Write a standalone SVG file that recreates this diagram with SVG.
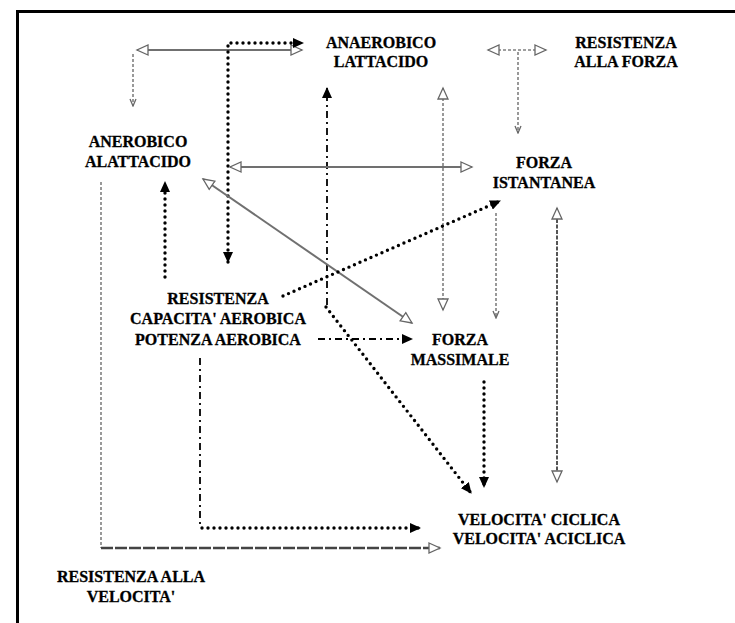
<svg xmlns="http://www.w3.org/2000/svg" width="735" height="623" viewBox="0 0 735 623">
<style>
.t{font-family:"Liberation Serif","Times New Roman",serif;font-weight:bold;font-size:16px;fill:#000;text-anchor:middle;stroke:#000;stroke-width:0.3}
.dot{fill:none;stroke:#000;stroke-width:3.4;stroke-dasharray:0 6;stroke-linecap:round}
.dd{fill:none;stroke:#000;stroke-width:1.8;stroke-dasharray:7 4 2 4}
.gray{fill:none;stroke:#707070;stroke-width:2}
.gd{fill:none;stroke:#808080;stroke-width:1.6;stroke-dasharray:3 2}
.gdk{fill:none;stroke:#555;stroke-width:2;stroke-dasharray:4 1.5}
.gb{fill:none;stroke:#444;stroke-width:2.6;stroke-dasharray:12 2}
</style>
<defs>
<marker id="fa" markerUnits="userSpaceOnUse" markerWidth="12" markerHeight="10" refX="10" refY="5" orient="auto-start-reverse"><path d="M0,0 L11,5 L0,10 Z" fill="#000"/></marker>
<marker id="ha" markerUnits="userSpaceOnUse" markerWidth="14" markerHeight="12" refX="12" refY="6" orient="auto-start-reverse"><path d="M1,1 L12,6 L1,11 Z" fill="#fff" stroke="#666" stroke-width="1.3"/></marker>
<marker id="sa" markerUnits="userSpaceOnUse" markerWidth="9" markerHeight="8" refX="8" refY="4" orient="auto-start-reverse"><path d="M1,1 L8,4 L1,7" fill="none" stroke="#666" stroke-width="1.3"/></marker>
</defs>
<g id="frame" fill="none" stroke="#000" stroke-width="3">
<line x1="16" y1="11.5" x2="735" y2="11.5"/>
<line x1="17.5" y1="10" x2="17.5" y2="623"/>
</g>
<g id="connectors">
<line class="gray" x1="137" y1="50" x2="302" y2="50" marker-start="url(#ha)" marker-end="url(#ha)"/>
<line class="gd" x1="133" y1="54" x2="133" y2="106" marker-end="url(#sa)"/>
<path class="dot" d="M228,262 V43 H303" marker-start="url(#fa)" marker-end="url(#fa)"/>
<line class="dd" x1="327" y1="305" x2="327" y2="88" marker-end="url(#fa)"/>
<line class="dot" x1="326" y1="307" x2="471" y2="493" marker-end="url(#fa)"/>
<line class="gray" x1="230" y1="167" x2="472" y2="167" marker-start="url(#ha)" marker-end="url(#ha)"/>
<line class="gray" x1="203" y1="179" x2="412" y2="323" marker-start="url(#ha)" marker-end="url(#ha)"/>
<line class="gd" x1="443" y1="88" x2="443" y2="310" marker-start="url(#ha)" marker-end="url(#ha)"/>
<line class="gd" x1="496" y1="213" x2="496" y2="318" marker-end="url(#sa)"/>
<line class="gd" x1="488" y1="50" x2="546" y2="50" marker-start="url(#ha)" marker-end="url(#ha)"/>
<line class="gd" x1="518" y1="52" x2="518" y2="133" marker-end="url(#sa)"/>
<line class="gdk" x1="557" y1="208" x2="557" y2="482" marker-start="url(#ha)" marker-end="url(#ha)"/>
<line class="dot" x1="165" y1="277" x2="165" y2="182" marker-end="url(#fa)"/>
<line class="dot" x1="484" y1="382" x2="484" y2="487" marker-end="url(#fa)"/>
<line class="dot" x1="283" y1="296" x2="500" y2="201" marker-end="url(#fa)"/>
<line class="dd" x1="318" y1="339" x2="412" y2="339" marker-end="url(#fa)"/>
<line class="dd" x1="200" y1="358" x2="200" y2="528"/>
<line class="dot" x1="202" y1="528" x2="420" y2="528" marker-end="url(#fa)"/>
<line class="gd" x1="101" y1="182" x2="101" y2="548"/>
<line class="gb" x1="101" y1="548" x2="440" y2="548" marker-end="url(#ha)"/>
</g>
<g id="anaerobico-lattacido"><text class="t" x="381" y="48">ANAEROBICO</text><text class="t" x="381" y="67">LATTACIDO</text></g>
<g id="resistenza-forza"><text class="t" x="626" y="48">RESISTENZA</text><text class="t" x="626" y="67">ALLA FORZA</text></g>
<g id="anerobico-alattacido"><text class="t" x="138" y="147">ANEROBICO</text><text class="t" x="138" y="167">ALATTACIDO</text></g>
<g id="forza-istantanea"><text class="t" x="544" y="168">FORZA</text><text class="t" x="544" y="188">ISTANTANEA</text></g>
<g id="resistenza-aerobica"><text class="t" x="218" y="304">RESISTENZA</text><text class="t" x="218" y="324">CAPACITA' AEROBICA</text><text class="t" x="218" y="345">POTENZA AEROBICA</text></g>
<g id="forza-massimale"><text class="t" x="460" y="345">FORZA</text><text class="t" x="460" y="365">MASSIMALE</text></g>
<g id="velocita"><text class="t" x="539" y="525">VELOCITA' CICLICA</text><text class="t" x="539" y="544">VELOCITA' ACICLICA</text></g>
<g id="resistenza-velocita"><text class="t" x="131" y="582">RESISTENZA ALLA</text><text class="t" x="131" y="602">VELOCITA'</text></g>
</svg>
